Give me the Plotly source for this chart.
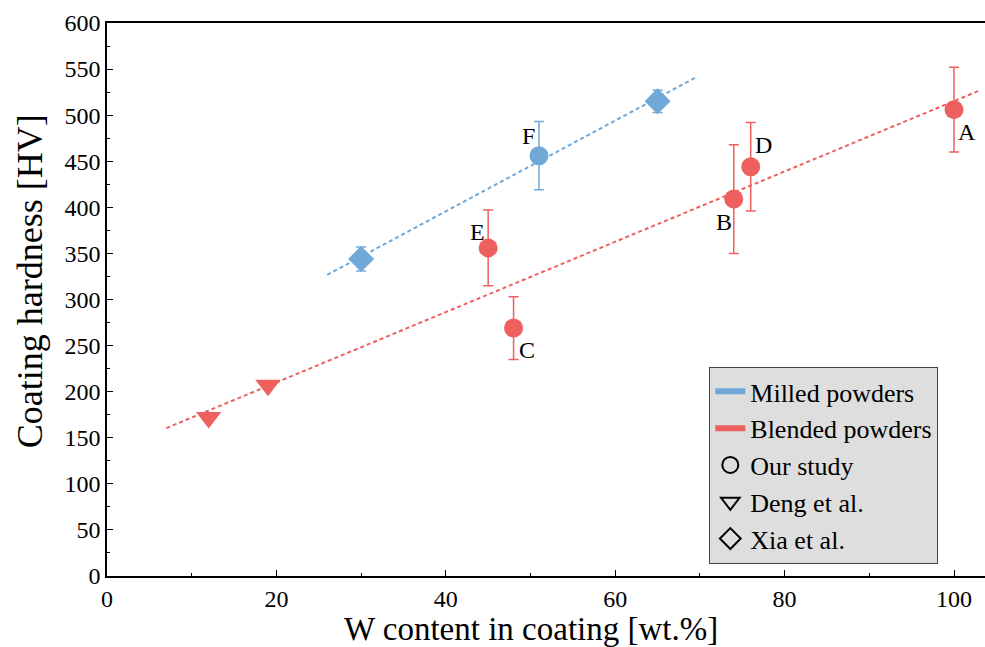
import numpy as np
import plotly.graph_objects as go

# ---- data -------------------------------------------------------------
# Our study, blended powders (samples A-E)
blend_labels = ["A", "B", "C", "D", "E"]
blend_w = [100, 74, 48, 76, 45]
blend_hv = [506, 409, 269, 444, 356]
blend_err = [46, 59, 34, 48, 41]

# Our study, milled powder (sample F)
mill_labels = ["F"]
mill_w = [51]
mill_hv = [456]
mill_err = [37]

# Deng et al. (blended)
deng_w = [12, 19]
deng_hv = [172, 207]

# Xia et al. (milled)
xia_w = [30, 65]
xia_hv = [344, 515]
xia_err = [13, 12]

x_ticks = [0, 20, 40, 60, 80, 100]
y_ticks = list(range(0, 601, 50))

# extent of the linear trend lines
blend_fit_span = [7, 103]
mill_fit_span = [26, 69.5]

RED = "#EE6060"
BLUE = "#70A8D8"
FONT = "Liberation Serif"

# ---- linear fits --------------------------------------------------------
bx = np.array(blend_w + deng_w, dtype=float)
by = np.array(blend_hv + deng_hv, dtype=float)
b_slope, b_int = np.polyfit(bx, by, 1)
bfx = np.array(blend_fit_span)

mx = np.array(mill_w + xia_w, dtype=float)
my = np.array(mill_hv + xia_hv, dtype=float)
m_slope, m_int = np.polyfit(mx, my, 1)
mfx = np.array(mill_fit_span)

fig = go.Figure()

# trend lines
fig.add_trace(go.Scatter(x=bfx, y=b_slope * bfx + b_int, mode="lines",
                         line=dict(color=RED, width=2, dash="4px,3px"),
                         showlegend=False, hoverinfo="skip"))
fig.add_trace(go.Scatter(x=mfx, y=m_slope * mfx + m_int, mode="lines",
                         line=dict(color=BLUE, width=2, dash="4px,3px"),
                         showlegend=False, hoverinfo="skip"))

# data points
err_style = dict(type="data", thickness=1.5, width=5)
fig.add_trace(go.Scatter(x=blend_w, y=blend_hv, mode="markers",
                         marker=dict(symbol="circle", size=19, color=RED),
                         error_y=dict(array=blend_err, color=RED, **err_style),
                         showlegend=False))
fig.add_trace(go.Scatter(x=mill_w, y=mill_hv, mode="markers",
                         marker=dict(symbol="circle", size=19, color=BLUE),
                         error_y=dict(array=mill_err, color=BLUE, **err_style),
                         showlegend=False))
fig.add_trace(go.Scatter(x=deng_w, y=deng_hv, mode="markers",
                         marker=dict(symbol="triangle-down", size=22, color=RED),
                         showlegend=False))
fig.add_trace(go.Scatter(x=xia_w, y=xia_hv, mode="markers",
                         marker=dict(symbol="diamond", size=20, color=BLUE),
                         error_y=dict(array=xia_err, color=BLUE, **err_style),
                         showlegend=False))

# legend entries
fig.add_trace(go.Scatter(x=[None], y=[None], mode="lines", name="Milled powders",
                         line=dict(color=BLUE, width=6)))
fig.add_trace(go.Scatter(x=[None], y=[None], mode="lines", name="Blended powders",
                         line=dict(color=RED, width=6)))
for sym, nm in [("circle-open", "Our study"),
                ("triangle-down-open", "Deng et al."),
                ("diamond-open", "Xia et al.")]:
    fig.add_trace(go.Scatter(x=[None], y=[None], mode="markers", name=nm,
                             marker=dict(symbol=sym, size=18, color="black",
                                         line=dict(width=2, color="black"))))

# sample letters
label_offsets = {"A": (13, -22), "B": (-10, -23), "C": (13, -22),
                 "D": (13, 22), "E": (-11, 16), "F": (-10, 20)}
for lab, xv, yv in zip(blend_labels + mill_labels, blend_w + mill_w, blend_hv + mill_hv):
    dx, dy = label_offsets[lab]
    fig.add_annotation(x=xv, y=yv, text=lab, showarrow=False,
                       xshift=dx, yshift=dy,
                       font=dict(family=FONT, size=24, color="black"))

# axis titles
fig.add_annotation(text="W content in coating [wt.%]", xref="paper", yref="paper",
                   x=0.483, y=0, yshift=-53, xanchor="center", yanchor="middle",
                   showarrow=False, font=dict(family=FONT, size=33, color="black"))
fig.add_annotation(text="Coating hardness [HV]", xref="paper", yref="paper",
                   x=0, y=0.533, xshift=-77, xanchor="center", yanchor="middle",
                   textangle=-90, showarrow=False,
                   font=dict(family=FONT, size=36, color="black"))

tick_font = dict(family=FONT, size=24, color="black")

fig.update_layout(
    width=985, height=647,
    margin=dict(l=107, r=0, t=23, b=71),
    plot_bgcolor="white", paper_bgcolor="white",
    font=dict(family=FONT, size=24, color="black"),
    legend=dict(x=0.686, y=0.378, xanchor="left", yanchor="top",
                bgcolor="#DEDEDE", bordercolor="#444444", borderwidth=1,
                font=dict(family=FONT, size=26, color="black"),
                tracegroupgap=0, itemwidth=30),
)
fig.update_xaxes(range=[0, 103.66], tickvals=x_ticks, mirror=True,
                 showline=True, linecolor="black", linewidth=1.5,
                 ticks="inside", ticklen=6, tickwidth=1, tickcolor="black",
                 showgrid=False, zeroline=False, tickfont=tick_font,
                 minor=dict(dtick=10, ticks="inside", ticklen=3, tickcolor="black"))
fig.update_yaxes(range=[0, 600], tickvals=y_ticks,
                 showline=True, linecolor="black", linewidth=1.5,
                 ticks="inside", ticklen=6, tickwidth=1, tickcolor="black",
                 showgrid=False, zeroline=False, tickfont=tick_font,
                 minor=dict(dtick=25, ticks="inside", ticklen=3, tickcolor="black"))

fig.write_html("out.html")
